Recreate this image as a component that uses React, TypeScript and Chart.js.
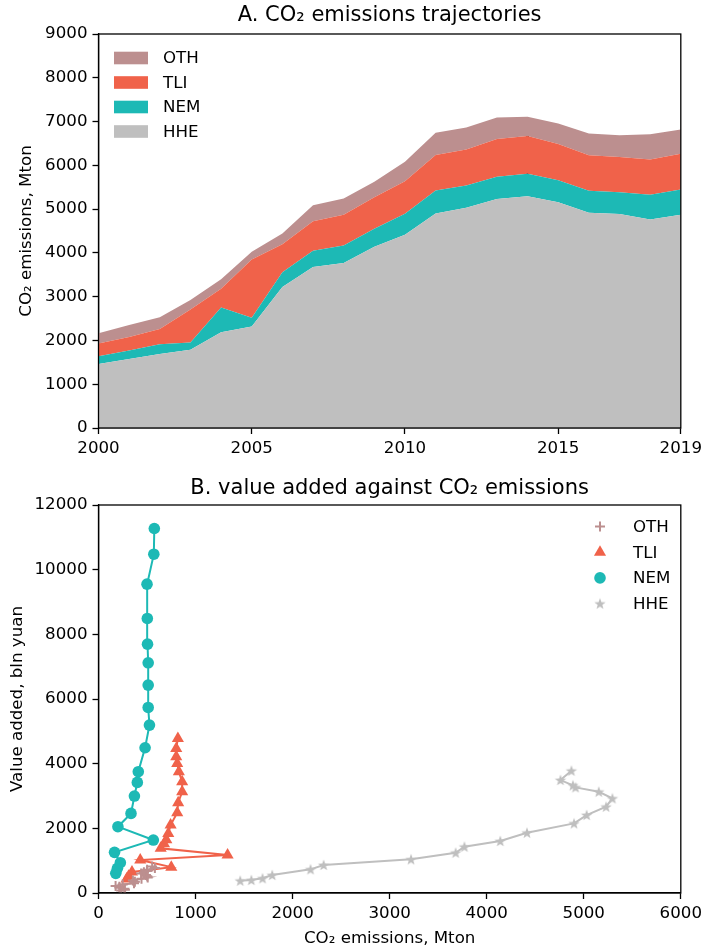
import React, { useEffect, useRef } from 'react';
import { Chart, registerables } from 'chart.js';

Chart.register(...registerables);

const FONT = "'DejaVu Sans', 'Liberation Sans', sans-serif";

// ---------------- data ----------------
const years = [2000, 2001, 2002, 2003, 2004, 2005, 2006, 2007, 2008, 2009, 2010, 2011, 2012, 2013, 2014, 2015, 2016, 2017, 2018, 2019];

// CO2 emissions by sector, Mton
const hheCO2 = [1460, 1575, 1690, 1790, 2185, 2320, 3220, 3680, 3770, 4140, 4415, 4900, 5030, 5230, 5295, 5155, 4915, 4888, 4760, 4873];
const nemCO2 = [178, 195, 225, 165, 565, 200, 335, 370, 400, 410, 480, 525, 512, 512, 512, 505, 503, 500, 570, 575];
const tliCO2 = [290, 310, 345, 750, 430, 1330, 641, 675, 699, 719, 743, 811, 821, 862, 862, 828, 811, 801, 801, 818];
const othCO2 = [234, 272, 267, 217, 215, 176, 249, 366, 375, 354, 443, 507, 502, 489, 439, 468, 499, 501, 581, 553];

// value added by sector, bln yuan
const hheVA = [380, 402, 454, 556, 732, 866, 1041, 1246, 1432, 1607, 1865, 2153, 2411, 2669, 2926, 3132, 3267, 3330, 3493, 3781];
const nemVA = [608, 763, 937, 1257, 1638, 2050, 2462, 2998, 3421, 3751, 4492, 5193, 5739, 6430, 7120, 7697, 8491, 9552, 10479, 11273];
const tliVA = [430, 520, 650, 800, 1020, 1175, 1381, 1520, 1650, 1844, 2102, 2483, 2792, 3132, 3441, 3750, 4008, 4214, 4472, 4781];
const othVA = [80, 100, 130, 160, 190, 220, 260, 300, 350, 390, 440, 480, 520, 560, 600, 640, 680, 720, 770, 820];

const markerYear = 2014;

const topXTicks = [2000, 2005, 2010, 2015, 2019];
const topYTicks = [0, 1000, 2000, 3000, 4000, 5000, 6000, 7000, 8000, 9000];
const botXTicks = [0, 1000, 2000, 3000, 4000, 5000, 6000];
const botYTicks = [0, 2000, 4000, 6000, 8000, 10000, 12000];

const titleA = 'A. CO\u2082 emissions trajectories';
const titleB = 'B. value added against CO\u2082 emissions';
const co2Label = 'CO\u2082 emissions, Mton';
const vaLabel = 'Value added, bln yuan';

const COLORS: Record<string, string> = {
  HHE: '#bfbfbf',
  NEM: '#1db9b5',
  TLI: '#f0624a',
  OTH: '#bc8f8f',
};

// ---------------- helpers ----------------
function makeStar(color: string, outer: number, inner: number) {
  const size = Math.ceil(outer * 2 + 2);
  const c = document.createElement('canvas');
  c.width = size;
  c.height = size;
  const g = c.getContext('2d')!;
  g.fillStyle = color;
  g.beginPath();
  for (let i = 0; i < 10; i++) {
    const r = i % 2 === 0 ? outer : inner;
    const a = -Math.PI / 2 + (i * Math.PI) / 5;
    const px = size / 2 + r * Math.cos(a);
    const py = size / 2 + r * Math.sin(a) + 0.5;
    if (i === 0) g.moveTo(px, py);
    else g.lineTo(px, py);
  }
  g.closePath();
  g.fill();
  return c;
}

const framePlugin = {
  id: 'frame',
  afterDraw(chart: any) {
    const { ctx, chartArea: a } = chart;
    ctx.save();
    ctx.strokeStyle = '#000';
    ctx.lineWidth = 1.3;
    ctx.strokeRect(a.left, a.top, a.right - a.left, a.bottom - a.top);
    ctx.restore();
  },
};

function titlePlugin(text: string, y: number) {
  return {
    id: 'ctitle',
    afterDraw(chart: any) {
      const { ctx, chartArea: a } = chart;
      ctx.save();
      ctx.font = `21px ${FONT}`;
      ctx.fillStyle = '#000';
      ctx.textAlign = 'center';
      ctx.textBaseline = 'middle';
      ctx.fillText(text, (a.left + a.right) / 2, y);
      ctx.restore();
    },
  };
}

const tickFont = { family: FONT, size: 16.67 };

function axisCommon() {
  return {
    grid: { drawOnChartArea: false, drawTicks: true, tickLength: 6, tickColor: '#000', tickWidth: 1.3 },
    border: { display: true, color: '#000', width: 1.3 },
    ticks: { color: '#000', font: tickFont, padding: 5, callback: (v: any) => String(v) },
  };
}

function TopChart() {
  const ref = useRef<HTMLCanvasElement | null>(null);
  useEffect(() => {
    const sectors = [
      { name: 'HHE', data: hheCO2 },
      { name: 'NEM', data: nemCO2 },
      { name: 'TLI', data: tliCO2 },
      { name: 'OTH', data: othCO2 },
    ];
    const idx = years.indexOf(markerYear);
    const total = hheCO2[idx] + nemCO2[idx] + tliCO2[idx] + othCO2[idx];
    const datasets: any[] = sectors.map((s, i) => ({
      label: s.name,
      data: years.map((yr, j) => ({ x: yr, y: s.data[j] })),
      backgroundColor: COLORS[s.name],
      borderWidth: 0,
      borderColor: COLORS[s.name],
      pointRadius: 0,
      fill: i === 0 ? 'origin' : '-1',
      stack: 'sectors',
      tension: 0,
    }));
    datasets.push({
      label: 'marker',
      data: [
        { x: markerYear, y: 0 },
        { x: markerYear, y: total },
      ],
      borderColor: '#000',
      borderWidth: 2.5,
      borderDash: [9, 4],
      pointRadius: 0,
      fill: false,
      stack: 'marker',
    });

    const legendOrder = ['OTH', 'TLI', 'NEM', 'HHE'];
    const legendPlugin = {
      id: 'alegend',
      afterDraw(chart: any) {
        const { ctx } = chart;
        ctx.save();
        ctx.font = `16.67px ${FONT}`;
        ctx.textBaseline = 'middle';
        ctx.textAlign = 'left';
        legendOrder.forEach((n, k) => {
          const yc = 58 + k * 24.5;
          ctx.fillStyle = COLORS[n];
          ctx.fillRect(114, yc - 6.3, 34, 12.6);
          ctx.fillStyle = '#000';
          ctx.fillText(n, 163, yc + 1);
        });
        ctx.restore();
      },
    };

    const xc = axisCommon();
    const yc = axisCommon();
    const chart = new Chart(ref.current!, {
      type: 'line',
      data: { datasets },
      options: {
        animation: false,
        responsive: false,
        devicePixelRatio: 1,
        layout: { padding: { left: 0, right: 22, top: 34, bottom: 0 } },
        plugins: { legend: { display: false }, tooltip: { enabled: false }, title: { display: false } },
        scales: {
          x: {
            type: 'linear',
            min: 2000,
            max: 2019,
            ...xc,
            afterBuildTicks: (s: any) => {
              s.ticks = topXTicks.map((v) => ({ value: v }));
            },
            afterFit: (s: any) => {
              s.height = 37;
            },
          },
          y: {
            type: 'linear',
            min: 0,
            max: 9000,
            stacked: true,
            ...yc,
            afterBuildTicks: (s: any) => {
              s.ticks = topYTicks.map((v) => ({ value: v }));
            },
            afterFit: (s: any) => {
              s.width = 98.5;
            },
            title: { display: true, text: co2Label, color: '#000', font: tickFont, padding: { top: 17, bottom: 0 } },
          },
        },
      } as any,
      plugins: [framePlugin, legendPlugin, titlePlugin(titleA, 16)],
    });
    return () => chart.destroy();
  }, []);
  return <canvas ref={ref} width={707} height={465} style={{ position: 'absolute', left: 0, top: 0, width: 707, height: 465 }} />;
}

function BottomChart() {
  const ref = useRef<HTMLCanvasElement | null>(null);
  useEffect(() => {
    const star = makeStar(COLORS.HHE, 6, 2.4);
    const series = [
      { name: 'OTH', co2: othCO2, va: othVA, style: 'cross', radius: 5 },
      { name: 'TLI', co2: tliCO2, va: tliVA, style: 'triangle', radius: 7 },
      { name: 'NEM', co2: nemCO2, va: nemVA, style: 'circle', radius: 5.8 },
      { name: 'HHE', co2: hheCO2, va: hheVA, style: star as any, radius: 6 },
    ];
    const datasets: any[] = series.map((s) => ({
      label: s.name,
      data: s.co2.map((c, j) => ({ x: c, y: s.va[j] })),
      showLine: true,
      borderColor: COLORS[s.name],
      backgroundColor: COLORS[s.name],
      borderWidth: 2,
      pointStyle: s.style,
      pointRadius: s.radius,
      pointBorderWidth: s.name === 'OTH' ? 2 : 0,
      pointBorderColor: COLORS[s.name],
      pointBackgroundColor: COLORS[s.name],
      tension: 0,
    }));

    const legendPlugin = {
      id: 'blegend',
      afterDraw(chart: any) {
        const { ctx } = chart;
        ctx.save();
        ctx.font = `16.67px ${FONT}`;
        ctx.textBaseline = 'middle';
        ctx.textAlign = 'left';
        const rows = ['OTH', 'TLI', 'NEM', 'HHE'];
        rows.forEach((n, k) => {
          const yc = 56.5 + k * 25.7;
          const xm = 600;
          ctx.fillStyle = COLORS[n];
          ctx.strokeStyle = COLORS[n];
          if (n === 'OTH') {
            ctx.lineWidth = 2;
            ctx.beginPath();
            ctx.moveTo(xm - 5, yc);
            ctx.lineTo(xm + 5, yc);
            ctx.moveTo(xm, yc - 5);
            ctx.lineTo(xm, yc + 5);
            ctx.stroke();
          } else if (n === 'TLI') {
            const r = 7;
            ctx.beginPath();
            ctx.moveTo(xm, yc - r);
            ctx.lineTo(xm + r * Math.sin((2 * Math.PI) / 3), yc - r * Math.cos((2 * Math.PI) / 3));
            ctx.lineTo(xm + r * Math.sin((4 * Math.PI) / 3), yc - r * Math.cos((4 * Math.PI) / 3));
            ctx.closePath();
            ctx.fill();
          } else if (n === 'NEM') {
            ctx.beginPath();
            ctx.arc(xm, yc, 5.8, 0, Math.PI * 2);
            ctx.fill();
          } else {
            ctx.drawImage(star, xm - star.width / 2, yc - star.height / 2);
          }
          ctx.fillStyle = '#000';
          ctx.fillText(n, 633, yc + 1);
        });
        ctx.restore();
      },
    };

    const xc = axisCommon();
    const yc = axisCommon();
    const chart = new Chart(ref.current!, {
      type: 'scatter',
      data: { datasets },
      options: {
        animation: false,
        responsive: false,
        devicePixelRatio: 1,
        layout: { padding: { left: 0, right: 22, top: 35, bottom: 0 } },
        plugins: { legend: { display: false }, tooltip: { enabled: false }, title: { display: false } },
        scales: {
          x: {
            type: 'linear',
            min: 0,
            max: 6000,
            ...xc,
            afterBuildTicks: (s: any) => {
              s.ticks = botXTicks.map((v) => ({ value: v }));
            },
            afterFit: (s: any) => {
              s.height = 56;
            },
            title: { display: true, text: co2Label, color: '#000', font: tickFont, padding: { top: 0, bottom: 0 } },
          },
          y: {
            type: 'linear',
            min: 0,
            max: 12000,
            ...yc,
            afterBuildTicks: (s: any) => {
              s.ticks = botYTicks.map((v) => ({ value: v }));
            },
            afterFit: (s: any) => {
              s.width = 98.5;
            },
            title: { display: true, text: vaLabel, color: '#000', font: tickFont, padding: { top: 7.5, bottom: 0 } },
          },
        },
      } as any,
      plugins: [framePlugin, legendPlugin, titlePlugin(titleB, 19)],
    });
    return () => chart.destroy();
  }, []);
  return <canvas ref={ref} width={707} height={479} style={{ position: 'absolute', left: 0, top: 470, width: 707, height: 479 }} />;
}

export default function App() {
  return (
    <div style={{ position: 'absolute', left: 0, top: 0, width: 707, height: 949, background: '#fff', overflow: 'hidden' }}>
      <TopChart />
      <BottomChart />
    </div>
  );
}
